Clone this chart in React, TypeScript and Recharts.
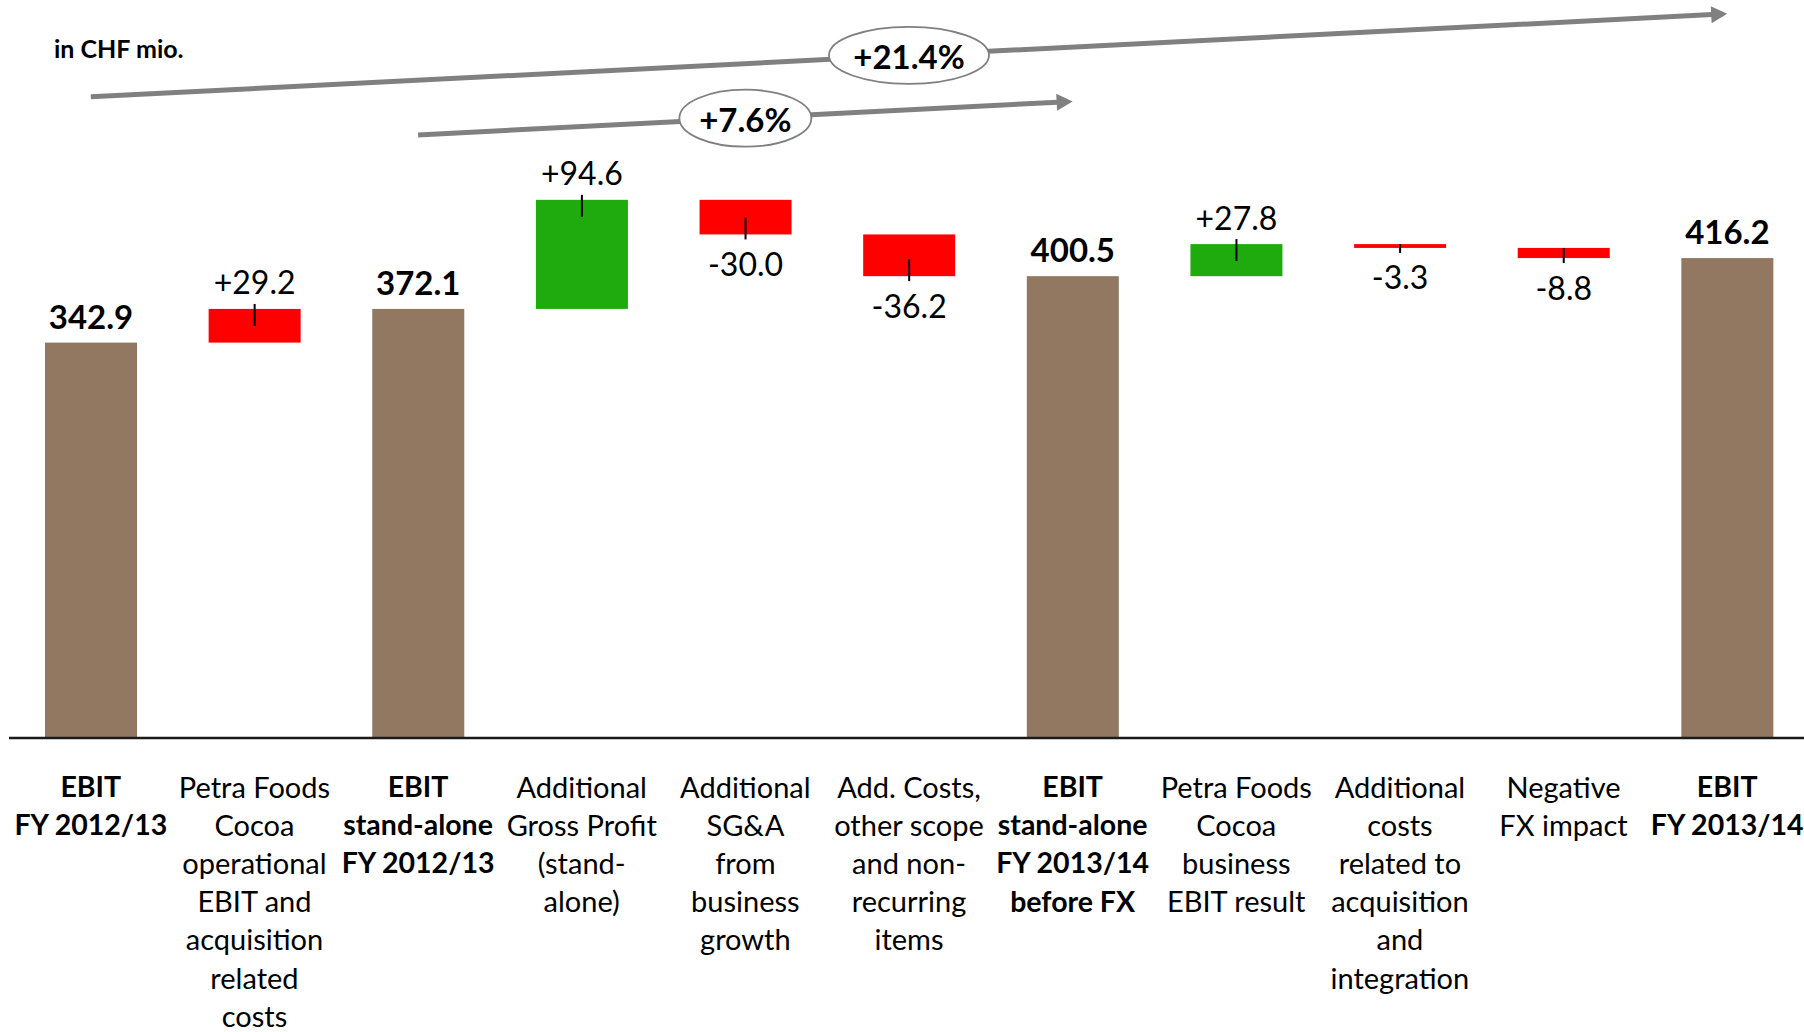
import React from 'react';
import { BarChart, Bar, XAxis, YAxis, ReferenceLine, ReferenceDot } from 'recharts';

// category labels, one entry per line
const categoryLines: string[][] = [
  ['EBIT', 'FY 2012/13'],
  ['Petra Foods', 'Cocoa', 'operational', 'EBIT and', 'acquisition', 'related', 'costs'],
  ['EBIT', 'stand-alone', 'FY 2012/13'],
  ['Additional', 'Gross Profit', '(stand-', 'alone)'],
  ['Additional', 'SG&A', 'from', 'business', 'growth'],
  ['Add. Costs,', 'other scope', 'and non-', 'recurring', 'items'],
  ['EBIT', 'stand-alone', 'FY 2013/14', 'before FX'],
  ['Petra Foods', 'Cocoa', 'business', 'EBIT result'],
  ['Additional', 'costs', 'related to', 'acquisition', 'and', 'integration'],
  ['Negative', 'FX impact'],
  ['EBIT', 'FY 2013/14'],
];
const amounts = [342.9, 29.2, 372.1, 94.6, -30.0, -36.2, 400.5, 27.8, -3.3, -8.8, 416.2];
const isTotal = [true, false, true, false, false, false, true, false, false, false, true];
// how each step is shown: total, gain or cost
const stepTone = ['total', 'cost', 'total', 'gain', 'cost', 'cost', 'total', 'gain', 'cost', 'cost', 'total'];

// growth arrows
const growthFrom = [0, 2];
const growthTo = [10, 6];
const growthStart = [556, 523];
const growthEnd = [628, 552];
const growthLabels = ['+21.4%', '+7.6%'];
const growthLabelAt = [5, 4];

const BROWN = '#927860';
const RED = '#ff0000';
const GREEN = '#1fab0e';
const FONT = 'Lato, "Open Sans", sans-serif';

const categoryNames = categoryLines.map((l) => l.join(' '));

let running = 0;
const data = categoryNames.map((name, i) => {
  const v = amounts[i];
  let range: [number, number];
  if (isTotal[i]) {
    range = [0, v];
    running = v;
  } else {
    const next = running + v;
    range = [Math.min(running, next), Math.max(running, next)];
    running = next;
  }
  return { name, range, tone: stepTone[i], total: isTotal[i], value: v };
});

const WaterfallBar = (props: any) => {
  const { x, width, payload } = props;
  const y = Math.min(props.y, props.y + props.height);
  const h = Math.abs(props.height);
  const fill = payload.tone === 'total' ? BROWN : payload.tone === 'gain' ? GREEN : RED;
  const cx = x + width / 2;
  const v = payload.value;
  const up = v >= 0;
  const text = payload.total ? v.toFixed(1) : (up ? '+' : '-') + Math.abs(v).toFixed(1);
  const labelY = up ? y - 27 : y + h + 29;
  const t = Math.min(17, h);
  return (
    <g>
      <rect x={x} y={y} width={width} height={h} fill={fill} />
      {!payload.total && up && <line x1={cx} x2={cx} y1={y - 5} y2={y + t} stroke="#000" strokeWidth={2} />}
      {!payload.total && !up && <line x1={cx} x2={cx} y1={y + h - t} y2={y + h + 5} stroke="#000" strokeWidth={2} />}
      <text
        x={cx}
        y={labelY}
        textAnchor="middle"
        dominantBaseline="central"
        fontFamily={FONT}
        fontSize={payload.total ? 33 : 32}
        fontWeight={payload.total ? 700 : 400}
        fill="#000"
      >
        {text}
      </text>
    </g>
  );
};

const CategoryTick = (props: any) => {
  const { x, y, payload, index } = props;
  const i = typeof index === 'number' ? index : categoryNames.indexOf(payload.value);
  const lines = categoryLines[i] || [payload.value];
  return (
    <g>
      {lines.map((line, k) => (
        <text
          key={k}
          x={x}
          y={y + 48 + k * 38.2}
          textAnchor="middle"
          dominantBaseline="central"
          fontFamily={FONT}
          fontSize={isTotal[i] ? 28.5 : 29}
          fontWeight={isTotal[i] ? 700 : 400}
          fill="#000"
        >
          {line}
        </text>
      ))}
    </g>
  );
};

const ArrowShape = (props: any) => {
  const { x1, y1, x2, y2 } = props;
  const ang = Math.atan2(y2 - y1, x2 - x1);
  const len = 16;
  const half = 8.5;
  const bx = x2 - len * Math.cos(ang);
  const by = y2 - len * Math.sin(ang);
  const px = -Math.sin(ang) * half;
  const py = Math.cos(ang) * half;
  return (
    <g>
      <line x1={x1} y1={y1} x2={bx + Math.cos(ang)} y2={by + Math.sin(ang)} stroke="#808080" strokeWidth={5} />
      <polygon points={`${x2},${y2} ${bx + px},${by + py} ${bx - px},${by - py}`} fill="#808080" />
    </g>
  );
};

const makeBubble = (label: string, rx: number) => (props: any) => {
  const { cx, cy } = props;
  return (
    <g>
      <ellipse cx={cx} cy={cy} rx={rx} ry={28.5} fill="#fff" stroke="#7f7f7f" strokeWidth={1.8} />
      <text
        x={cx}
        y={cy + 1}
        textAnchor="middle"
        dominantBaseline="central"
        fontFamily={FONT}
        fontSize={33}
        fontWeight={700}
        fill="#000"
      >
        {label}
      </text>
    </g>
  );
};

export default function App() {
  return (
    <div style={{ position: 'absolute', left: 0, top: 0, width: 1804, height: 1032, background: '#fff', overflow: 'hidden' }}>
      <div
        style={{
          position: 'absolute',
          left: 54,
          top: 33,
          fontFamily: FONT,
          fontWeight: 700,
          fontSize: 25,
          lineHeight: '30px',
          color: '#000',
        }}
      >
        in CHF mio.
      </div>
      <BarChart width={1804} height={1032} data={data} margin={{ top: 0, right: -5, left: 9, bottom: 0 }}>
        <YAxis hide domain={[0, 640]} />
        <XAxis
          dataKey="name"
          height={294}
          interval={0}
          tickLine={false}
          tickSize={0}
          tickMargin={0}
          axisLine={{ stroke: '#1a1a1a', strokeWidth: 2.5 }}
          tick={<CategoryTick />}
        />
        <Bar dataKey="range" barSize={92} shape={<WaterfallBar />} isAnimationActive={false} />
        {growthLabels.map((label, k) => (
          <ReferenceLine
            key={`arrow-${k}`}
            segment={[
              { x: categoryNames[growthFrom[k]], y: growthStart[k] },
              { x: categoryNames[growthTo[k]], y: growthEnd[k] },
            ]}
            ifOverflow="visible"
            shape={<ArrowShape />}
          />
        ))}
        {growthLabels.map((label, k) => {
          const at = growthLabelAt[k];
          const t = (at - growthFrom[k]) / (growthTo[k] - growthFrom[k]);
          const yv = growthStart[k] + t * (growthEnd[k] - growthStart[k]);
          return (
            <ReferenceDot
              key={`bubble-${k}`}
              x={categoryNames[at]}
              y={yv}
              r={1}
              ifOverflow="visible"
              shape={makeBubble(label, k === 0 ? 80 : 66)}
            />
          );
        })}
      </BarChart>
    </div>
  );
}
